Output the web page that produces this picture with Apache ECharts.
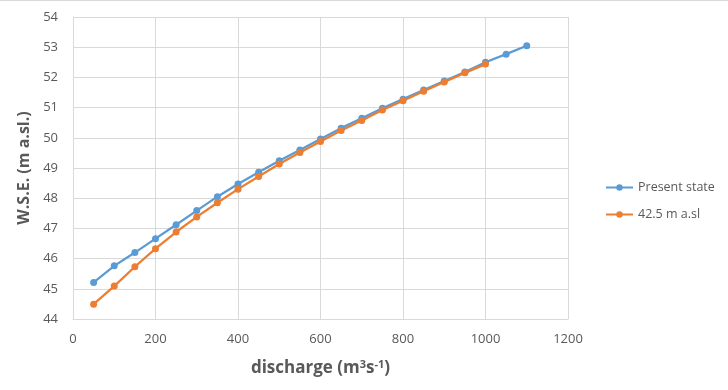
<!DOCTYPE html>
<html>
<head>
<meta charset="utf-8">
<script src="https://cdn.jsdelivr.net/npm/echarts@6/dist/echarts.min.js"></script>
<style>
  html, body {margin: 0; padding: 0; background: #fff;}
  #chart {width: 728px; height: 390px;}
</style>
</head>
<body>
<div id="chart"></div>
<script>
// discharge (m3/s) at each computed point
const discharge = [50, 100, 150, 200, 250, 300, 350, 400, 450, 500, 550,
  600, 650, 700, 750, 800, 850, 900, 950, 1000, 1050, 1100];
// water surface elevation, present state
const presentState = [45.21, 45.76, 46.20, 46.66, 47.12, 47.59, 48.05, 48.47, 48.86, 49.24, 49.60,
  49.96, 50.32, 50.65, 50.98, 51.28, 51.58, 51.88, 52.18, 52.50, 52.77, 53.05];
// water surface elevation, 42.5 m a.sl scenario (stops at 1000)
const scenario425 = [44.49, 45.09, 45.73, 46.33, 46.88, 47.38, 47.85, 48.30, 48.72, 49.13, 49.51,
  49.88, 50.24, 50.57, 50.92, 51.23, 51.54, 51.85, 52.15, 52.44];
const seriesNames = ['Present state', '42.5 m a.sl'];

const pairs = (ys) => ys.map((y, i) => [discharge[i], y]);

const textColor = '#595959';
const gridColor = '#d9d9d9';
const font = 'Open Sans, Liberation Sans, sans-serif';

const myChart = echarts.init(document.getElementById('chart'));
myChart.setOption({
  animation: false,
  color: ['#5B9BD5', '#ED7D31'],
  grid: {left: 73, right: 160, top: 17, bottom: 71},
  graphic: [{
    type: 'line',
    shape: {x1: 0, y1: 0.5, x2: 728, y2: 0.5},
    style: {stroke: gridColor, lineWidth: 1}
  }],
  legend: {
    orient: 'vertical',
    left: 600,
    top: 176,
    itemGap: 14,
    itemWidth: 27,
    itemHeight: 8,
    textStyle: {color: textColor, fontSize: 12.5, fontFamily: font},
    data: seriesNames
  },
  xAxis: {
    type: 'value',
    min: 0,
    max: 1200,
    interval: 200,
    name: 'discharge (m{sup|3}s{sup|-1})',
    nameLocation: 'middle',
    nameGap: 40,
    nameTextStyle: {
      color: textColor, fontSize: 17, fontWeight: 'bold', fontFamily: font,
      rich: {sup: {color: textColor, fontSize: 11, fontWeight: 'bold', fontFamily: font, padding: [0, 0, 8, 0]}}
    },
    axisLine: {show: true, lineStyle: {color: gridColor}},
    axisTick: {show: false},
    axisLabel: {color: textColor, fontSize: 13, margin: 14, fontFamily: font, formatter: (v) => String(v)},
    splitLine: {show: true, lineStyle: {color: gridColor}}
  },
  yAxis: {
    type: 'value',
    min: 44,
    max: 54,
    interval: 1,
    name: 'W.S.E. (m a.sl.)',
    nameLocation: 'middle',
    nameGap: 35,
    nameTextStyle: {color: textColor, fontSize: 16, fontWeight: 'bold', fontFamily: font},
    axisLine: {show: true, lineStyle: {color: gridColor}},
    axisTick: {show: false},
    axisLabel: {color: textColor, fontSize: 13, margin: 15, fontFamily: font},
    splitLine: {show: true, lineStyle: {color: gridColor}}
  },
  series: [
    {
      name: seriesNames[0],
      type: 'line',
      data: pairs(presentState),
      symbol: 'circle',
      symbolSize: 7,
      lineStyle: {width: 2.25}
    },
    {
      name: seriesNames[1],
      type: 'line',
      data: pairs(scenario425),
      symbol: 'circle',
      symbolSize: 7,
      lineStyle: {width: 2.25}
    }
  ]
});
</script>
</body>
</html>
